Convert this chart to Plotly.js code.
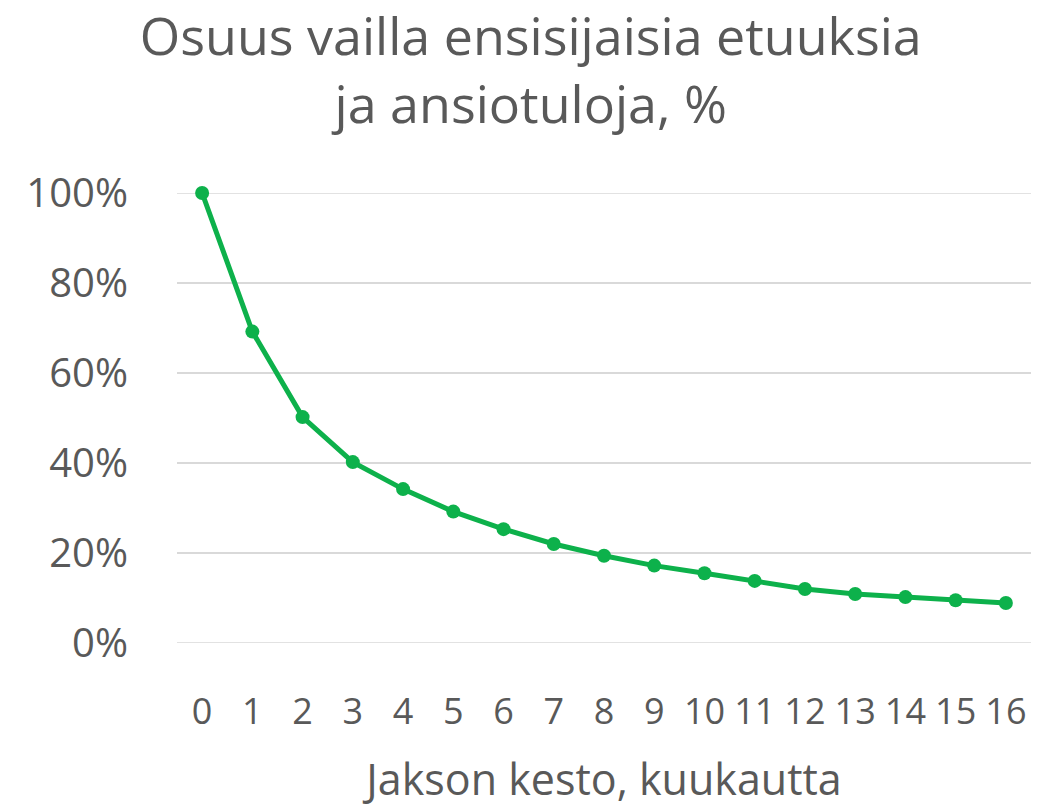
<!DOCTYPE html>
<html>
<head>
<meta charset="utf-8">
<script src="https://cdn.plot.ly/plotly-3.0.1.min.js"></script>
<style>html,body{margin:0;padding:0;background:#fff;}#chart{width:1051px;height:808px;}</style>
</head>
<body>
<div id="chart"></div>
<script>
const months = ["0","1","2","3","4","5","6","7","8","9","10","11","12","13","14","15","16"];
const shareWithout = [1.000,0.692,0.502,0.402,0.342,0.292,0.253,0.220,0.194,0.172,0.155,0.138,0.120,0.109,0.102,0.095,0.089];
const yTicks = [0,0.2,0.4,0.6,0.8,1.0];
const yTickText = ["0%","20%","40%","60%","80%","100%"];

const FONT = '"Open Sans", "Noto Sans", sans-serif';
const GREY = '#595959';
const GRID = '#d9d9d9';

Plotly.newPlot('chart', [{
  type: 'scatter',
  mode: 'lines+markers',
  x: months,
  y: shareWithout,
  line: {color: '#0DB14B', width: 5},
  marker: {color: '#0DB14B', size: 14},
  cliponaxis: false,
  hoverinfo: 'skip'
}], {
  width: 1051, height: 808,
  paper_bgcolor: '#fff', plot_bgcolor: '#fff',
  margin: {l: 177, r: 20, t: 193, b: 165},
  showlegend: false,
  title: {
    text: 'Osuus vailla ensisijaisia etuuksia<br>ja ansiotuloja, %',
    font: {family: FONT, size: 52, color: GREY},
    x: 0.505, xref: 'container', xanchor: 'center',
    y: 0.932, yref: 'container', yanchor: 'middle'
  },
  shapes: yTicks.filter(v => v === 0 || v === 1).map(v => ({
    type: 'line', xref: 'paper', yref: 'y', x0: 0, x1: 1, y0: v, y1: v,
    line: {color: GRID, width: 1.5}, layer: 'below'
  })),
  xaxis: {
    type: 'category',
    range: [-0.5, 16.5],
    showgrid: false, zeroline: false, showline: false,
    ticks: '',
    tickangle: 0,
    tickfont: {family: FONT, size: 36, color: GREY},
    ticklabelstandoff: 44,
    title: {text: 'Jakson kesto, kuukautta', font: {family: FONT, size: 43, color: GREY}, standoff: 34}
  },
  yaxis: {
    range: [0, 1],
    tickvals: yTicks,
    ticktext: yTickText,
    showgrid: true, gridcolor: GRID, gridwidth: 1.5,
    zeroline: false, showline: false,
    ticks: '',
    tickfont: {family: FONT, size: 40, color: GREY},
    ticklabelstandoff: 48
  }
}, {staticPlot: true});
</script>
</body>
</html>
